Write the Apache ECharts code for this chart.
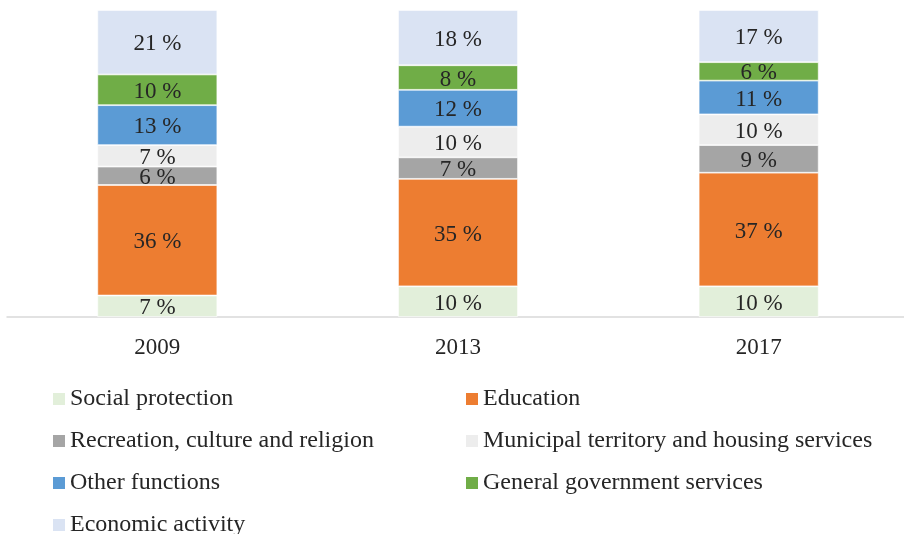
<!DOCTYPE html>
<html><head><meta charset="utf-8">
<script src="https://cdn.jsdelivr.net/npm/echarts@6/dist/echarts.min.js"></script>
<style>html,body{margin:0;padding:0;background:#fff;overflow:hidden;}#c{width:912px;height:534px;}</style>
</head><body><div id="c"></div>
<script>
const years = ['2009', '2013', '2017'];
const seriesNames = ['Social protection', 'Education', 'Recreation, culture and religion', 'Municipal territory and housing services', 'Other functions', 'General government services', 'Economic activity'];
const socialProtection = [7, 10, 10];
const education = [36, 35, 37];
const recreation = [6, 7, 9];
const municipal = [7, 10, 10];
const otherFunctions = [13, 12, 11];
const generalGov = [10, 8, 6];
const economicActivity = [21, 18, 17];
const values = [socialProtection, education, recreation, municipal, otherFunctions, generalGov, economicActivity];
const colors = ['#E2EFDA', '#ED7D31', '#A5A5A5', '#EDEDED', '#5B9BD5', '#70AD47', '#DAE3F3'];
const font = '"Liberation Serif", "Times New Roman", serif';

const legendPos = [[53, 397], [466, 397], [53, 439], [466, 439], [53, 481], [466, 481], [53, 523]];
const legends = seriesNames.map((n, i) => ({
  data: [n],
  left: legendPos[i][0],
  top: legendPos[i][1] - 10,
  padding: 0,
  itemWidth: 12, itemHeight: 12, itemGap: 0,
  icon: 'rect',
  itemStyle: { borderWidth: 0 },
  textStyle: { fontFamily: font, fontSize: 24, color: '#262626', padding: [0, 0, 0, 0] },
  selectedMode: false
}));

const chart = echarts.init(document.getElementById('c'));
chart.setOption({
  animation: false,
  color: colors,
  grid: { left: 7, top: 10, width: 902, height: 307, containLabel: false },
  legend: legends,
  xAxis: {
    type: 'category', data: years,
    axisLine: { lineStyle: { color: '#D9D9D9', width: 1.5 } },
    axisTick: { show: false },
    axisLabel: { fontFamily: font, fontSize: 23, color: '#262626', margin: 19 }
  },
  yAxis: { type: 'value', min: 0, max: 100, show: false, splitLine: { show: false } },
  series: values.map((v, i) => ({
    name: seriesNames[i], type: 'bar', stack: 'total', data: v, barWidth: 120,
    itemStyle: { color: colors[i], borderColor: 'rgba(255,255,255,0.8)', borderWidth: 0.8 },
    label: { show: true, position: 'inside', offset: [0, 2], formatter: '{c} %', fontFamily: font, fontSize: 23, color: '#262626' }
  }))
});
</script></body></html>
